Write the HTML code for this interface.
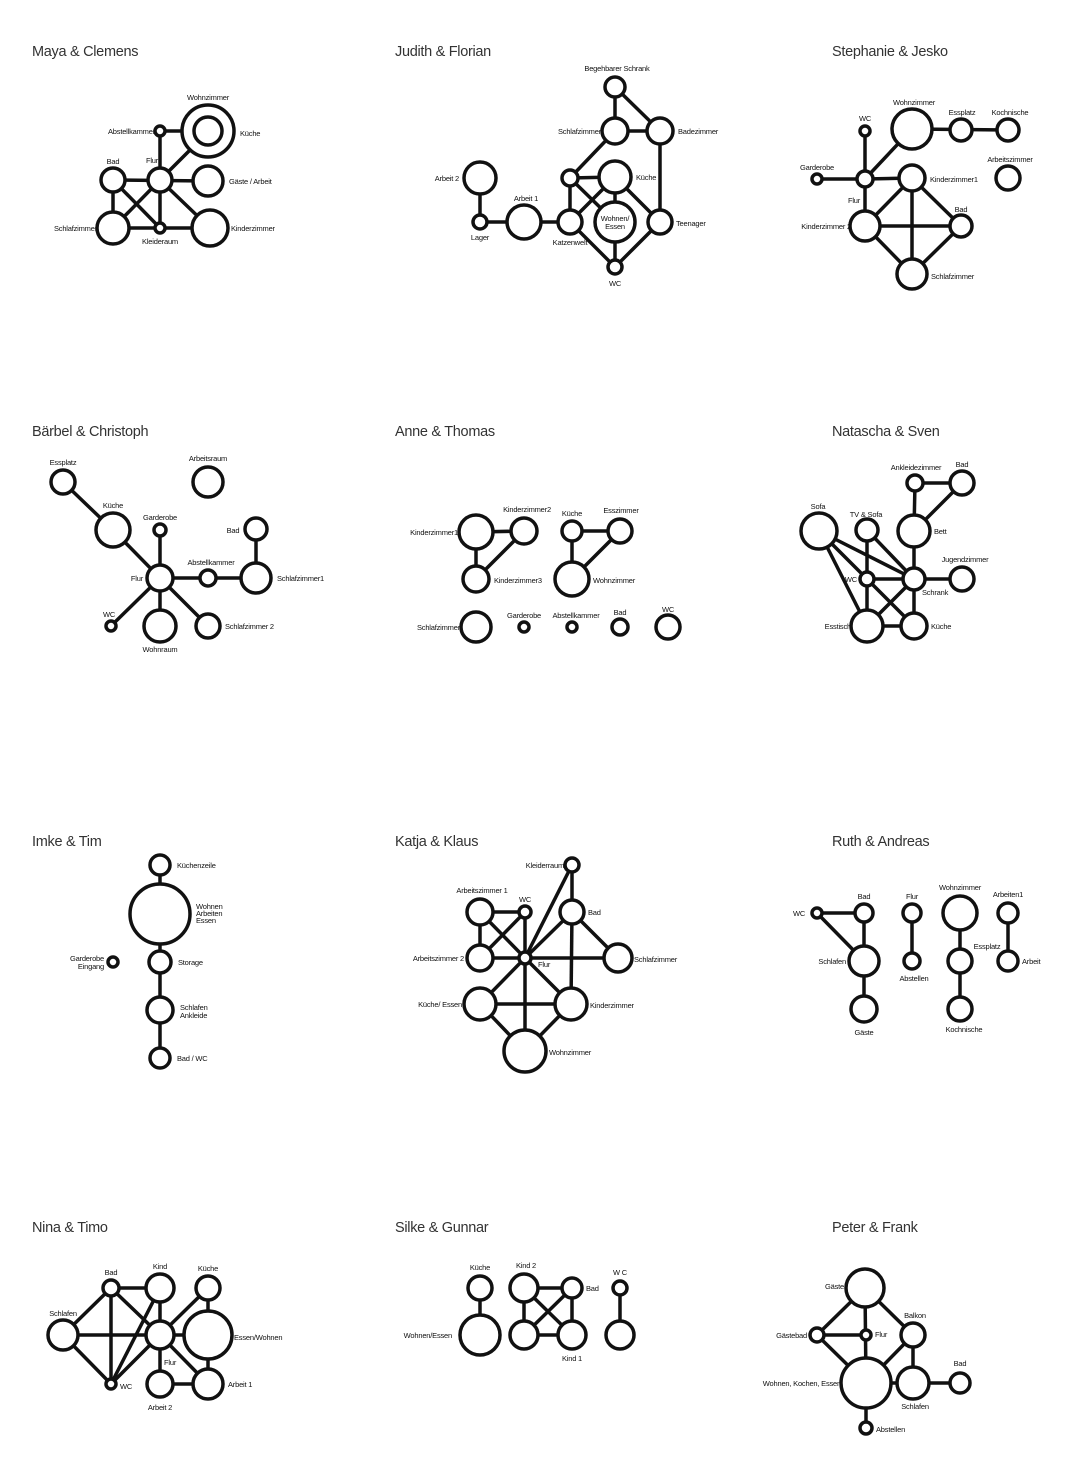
<!DOCTYPE html>
<html><head><meta charset="utf-8"><style>
html,body{margin:0;padding:0;background:#fff}
svg{display:block}
.t{font-family:"Liberation Sans",sans-serif;font-size:14.5px;fill:#333;letter-spacing:-0.3px}
.l{font-family:"Liberation Sans",sans-serif;font-size:7.5px;fill:#111;letter-spacing:-0.2px}
line{stroke:#111;stroke-width:3.5}
circle{fill:#fff;stroke:#111;stroke-width:3.5}
</style></head><body>
<svg width="1080" height="1471" viewBox="0 0 1080 1471" xmlns="http://www.w3.org/2000/svg">
<!-- titles -->
<text class="t" x="32" y="56">Maya &amp;  Clemens</text>
<text class="t" x="395" y="56">Judith &amp; Florian</text>
<text class="t" x="832" y="56">Stephanie &amp; Jesko</text>
<text class="t" x="32" y="436">Bärbel &amp; Christoph</text>
<text class="t" x="395" y="436">Anne &amp; Thomas</text>
<text class="t" x="832" y="436">Natascha &amp; Sven</text>
<text class="t" x="32" y="846">Imke &amp; Tim</text>
<text class="t" x="395" y="846">Katja &amp; Klaus</text>
<text class="t" x="832" y="846">Ruth &amp; Andreas</text>
<text class="t" x="32" y="1232">Nina &amp; Timo</text>
<text class="t" x="395" y="1232">Silke &amp; Gunnar</text>
<text class="t" x="832" y="1232">Peter &amp; Frank</text>

<!-- Maya -->
<g>
<line x1="160" y1="131" x2="208" y2="131"/><line x1="160" y1="131" x2="160" y2="180"/>
<line x1="160" y1="180" x2="198" y2="142"/><line x1="113" y1="180" x2="208" y2="181"/>
<line x1="113" y1="180" x2="113" y2="228"/><line x1="113" y1="180" x2="160" y2="228"/>
<line x1="160" y1="180" x2="113" y2="228"/><line x1="160" y1="180" x2="160" y2="228"/>
<line x1="160" y1="180" x2="210" y2="228"/><line x1="113" y1="228" x2="210" y2="228"/>
<circle cx="208" cy="131" r="26"/><circle cx="208" cy="131" r="14"/>
<circle cx="160" cy="131" r="5"/><circle cx="160" cy="180" r="12"/><circle cx="113" cy="180" r="12"/>
<circle cx="208" cy="181" r="15"/><circle cx="113" cy="228" r="16"/><circle cx="160" cy="228" r="5"/>
<circle cx="210" cy="228" r="18"/>
<text class="l" x="208" y="100" text-anchor="middle">Wohnzimmer</text>
<text class="l" x="155" y="134" text-anchor="end">Abstellkammer</text>
<text class="l" x="240" y="136">Küche</text>
<text class="l" x="152" y="163" text-anchor="middle">Flur</text>
<text class="l" x="113" y="164" text-anchor="middle">Bad</text>
<text class="l" x="229" y="184">Gäste / Arbeit</text>
<text class="l" x="97" y="231" text-anchor="end">Schlafzimmer</text>
<text class="l" x="160" y="244" text-anchor="middle">Kleideraum</text>
<text class="l" x="231" y="231">Kinderzimmer</text>
</g>

<!-- Judith -->
<g>
<line x1="615" y1="87" x2="615" y2="131"/><line x1="615" y1="87" x2="660" y2="131"/>
<line x1="615" y1="131" x2="660" y2="131"/><line x1="615" y1="131" x2="570" y2="178"/>
<line x1="660" y1="131" x2="660" y2="222"/><line x1="570" y1="178" x2="615" y2="177"/>
<line x1="570" y1="178" x2="570" y2="222"/><line x1="570" y1="178" x2="615" y2="222"/>
<line x1="480" y1="178" x2="480" y2="222"/><line x1="480" y1="222" x2="570" y2="222"/>
<line x1="570" y1="222" x2="615" y2="177"/><line x1="615" y1="177" x2="660" y2="222"/>
<line x1="615" y1="177" x2="615" y2="222"/><line x1="570" y1="222" x2="615" y2="267"/>
<line x1="615" y1="222" x2="615" y2="267"/><line x1="660" y1="222" x2="615" y2="267"/>
<circle cx="615" cy="87" r="10"/><circle cx="615" cy="131" r="13"/><circle cx="660" cy="131" r="13"/>
<circle cx="480" cy="178" r="16"/><circle cx="570" cy="178" r="8"/><circle cx="615" cy="177" r="16"/>
<circle cx="524" cy="222" r="17"/><circle cx="480" cy="222" r="7"/><circle cx="570" cy="222" r="12"/>
<circle cx="615" cy="222" r="20"/><circle cx="615" cy="267" r="7"/><circle cx="660" cy="222" r="12"/>
<text class="l" x="617" y="71" text-anchor="middle">Begehbarer Schrank</text>
<text class="l" x="601" y="134" text-anchor="end">Schlafzimmer</text>
<text class="l" x="678" y="134">Badezimmer</text>
<text class="l" x="459" y="181" text-anchor="end">Arbeit 2</text>
<text class="l" x="636" y="180">Küche</text>
<text class="l" x="526" y="201" text-anchor="middle">Arbeit 1</text>
<text class="l" x="480" y="240" text-anchor="middle">Lager</text>
<text class="l" x="570" y="245" text-anchor="middle">Katzenwelt</text>
<text class="l" x="615" y="221" text-anchor="middle">Wohnen/</text>
<text class="l" x="615" y="229" text-anchor="middle">Essen</text>
<text class="l" x="615" y="286" text-anchor="middle">WC</text>
<text class="l" x="676" y="226">Teenager</text>
</g>

<!-- Stephanie -->
<g>
<line x1="912" y1="129" x2="1008" y2="130"/>
<line x1="865" y1="131" x2="865" y2="179"/><line x1="817" y1="179" x2="865" y2="179"/>
<line x1="865" y1="179" x2="912" y2="129"/><line x1="865" y1="179" x2="912" y2="178"/>
<line x1="865" y1="179" x2="865" y2="226"/><line x1="912" y1="178" x2="865" y2="226"/>
<line x1="912" y1="178" x2="961" y2="226"/><line x1="912" y1="178" x2="912" y2="274"/>
<line x1="865" y1="226" x2="961" y2="226"/><line x1="865" y1="226" x2="912" y2="274"/>
<line x1="961" y1="226" x2="912" y2="274"/>
<circle cx="912" cy="129" r="20"/><circle cx="961" cy="130" r="11"/><circle cx="1008" cy="130" r="11"/>
<circle cx="1008" cy="178" r="12"/><circle cx="865" cy="131" r="5"/><circle cx="817" cy="179" r="5"/>
<circle cx="865" cy="179" r="8"/><circle cx="912" cy="178" r="13"/><circle cx="961" cy="226" r="11"/>
<circle cx="865" cy="226" r="15"/><circle cx="912" cy="274" r="15"/>
<text class="l" x="914" y="105" text-anchor="middle">Wohnzimmer</text>
<text class="l" x="962" y="115" text-anchor="middle">Essplatz</text>
<text class="l" x="1010" y="115" text-anchor="middle">Kochnische</text>
<text class="l" x="1010" y="162" text-anchor="middle">Arbeitszimmer</text>
<text class="l" x="865" y="121" text-anchor="middle">WC</text>
<text class="l" x="817" y="170" text-anchor="middle">Garderobe</text>
<text class="l" x="854" y="203" text-anchor="middle">Flur</text>
<text class="l" x="930" y="182">Kinderzimmer1</text>
<text class="l" x="961" y="212" text-anchor="middle">Bad</text>
<text class="l" x="851" y="229" text-anchor="end">Kinderzimmer 2</text>
<text class="l" x="931" y="279">Schlafzimmer</text>
</g>

<!-- Bärbel -->
<g>
<line x1="63" y1="482" x2="113" y2="530"/><line x1="113" y1="530" x2="160" y2="578"/>
<line x1="160" y1="530" x2="160" y2="578"/><line x1="160" y1="578" x2="256" y2="578"/>
<line x1="256" y1="529" x2="256" y2="578"/><line x1="160" y1="578" x2="111" y2="626"/>
<line x1="160" y1="578" x2="160" y2="626"/><line x1="160" y1="578" x2="208" y2="626"/>
<circle cx="63" cy="482" r="12"/><circle cx="208" cy="482" r="15"/><circle cx="113" cy="530" r="17"/>
<circle cx="160" cy="530" r="6"/><circle cx="256" cy="529" r="11"/><circle cx="208" cy="578" r="8"/>
<circle cx="256" cy="578" r="15"/><circle cx="160" cy="578" r="13"/><circle cx="111" cy="626" r="5"/>
<circle cx="160" cy="626" r="16"/><circle cx="208" cy="626" r="12"/>
<text class="l" x="63" y="465" text-anchor="middle">Essplatz</text>
<text class="l" x="208" y="461" text-anchor="middle">Arbeitsraum</text>
<text class="l" x="113" y="508" text-anchor="middle">Küche</text>
<text class="l" x="160" y="520" text-anchor="middle">Garderobe</text>
<text class="l" x="233" y="533" text-anchor="middle">Bad</text>
<text class="l" x="211" y="565" text-anchor="middle">Abstellkammer</text>
<text class="l" x="277" y="581">Schlafzimmer1</text>
<text class="l" x="143" y="581" text-anchor="end">Flur</text>
<text class="l" x="109" y="617" text-anchor="middle">WC</text>
<text class="l" x="160" y="652" text-anchor="middle">Wohnraum</text>
<text class="l" x="225" y="629">Schlafzimmer 2</text>
</g>

<!-- Anne -->
<g>
<line x1="476" y1="532" x2="524" y2="531"/><line x1="476" y1="532" x2="476" y2="579"/>
<line x1="524" y1="531" x2="476" y2="579"/><line x1="572" y1="531" x2="620" y2="531"/>
<line x1="572" y1="531" x2="572" y2="579"/><line x1="620" y1="531" x2="572" y2="579"/>
<circle cx="476" cy="532" r="17"/><circle cx="524" cy="531" r="13"/><circle cx="476" cy="579" r="13"/>
<circle cx="572" cy="531" r="10"/><circle cx="620" cy="531" r="12"/><circle cx="572" cy="579" r="17"/>
<circle cx="476" cy="627" r="15"/><circle cx="524" cy="627" r="5"/><circle cx="572" cy="627" r="5"/>
<circle cx="620" cy="627" r="8"/><circle cx="668" cy="627" r="12"/>
<text class="l" x="458" y="535" text-anchor="end">Kinderzimmer1</text>
<text class="l" x="527" y="512" text-anchor="middle">Kinderzimmer2</text>
<text class="l" x="494" y="583">Kinderzimmer3</text>
<text class="l" x="572" y="516" text-anchor="middle">Küche</text>
<text class="l" x="621" y="513" text-anchor="middle">Esszimmer</text>
<text class="l" x="593" y="583">Wohnzimmer</text>
<text class="l" x="460" y="630" text-anchor="end">Schlafzimmer</text>
<text class="l" x="524" y="618" text-anchor="middle">Garderobe</text>
<text class="l" x="576" y="618" text-anchor="middle">Abstellkammer</text>
<text class="l" x="620" y="615" text-anchor="middle">Bad</text>
<text class="l" x="668" y="612" text-anchor="middle">WC</text>
</g>

<!-- Natascha -->
<g>
<line x1="915" y1="483" x2="962" y2="483"/><line x1="915" y1="483" x2="914" y2="531"/>
<line x1="962" y1="483" x2="914" y2="531"/><line x1="914" y1="531" x2="914" y2="579"/>
<line x1="914" y1="579" x2="962" y2="579"/><line x1="914" y1="579" x2="914" y2="626"/>
<line x1="914" y1="579" x2="867" y2="626"/><line x1="914" y1="579" x2="867" y2="579"/>
<line x1="914" y1="579" x2="867" y2="530"/><line x1="914" y1="579" x2="819" y2="531"/>
<line x1="819" y1="531" x2="867" y2="579"/><line x1="819" y1="531" x2="867" y2="626"/>
<line x1="867" y1="530" x2="867" y2="626"/><line x1="867" y1="579" x2="914" y2="626"/>
<line x1="867" y1="626" x2="914" y2="626"/>
<circle cx="915" cy="483" r="8"/><circle cx="962" cy="483" r="12"/><circle cx="819" cy="531" r="18"/>
<circle cx="867" cy="530" r="11"/><circle cx="914" cy="531" r="16"/><circle cx="962" cy="579" r="12"/>
<circle cx="867" cy="579" r="7"/><circle cx="914" cy="579" r="11"/><circle cx="867" cy="626" r="16"/>
<circle cx="914" cy="626" r="13"/>
<text class="l" x="916" y="470" text-anchor="middle">Ankleidezimmer</text>
<text class="l" x="962" y="467" text-anchor="middle">Bad</text>
<text class="l" x="818" y="509" text-anchor="middle">Sofa</text>
<text class="l" x="866" y="517" text-anchor="middle">TV &amp; Sofa</text>
<text class="l" x="934" y="534">Bett</text>
<text class="l" x="965" y="562" text-anchor="middle">Jugendzimmer</text>
<text class="l" x="857" y="582" text-anchor="end">WC</text>
<text class="l" x="922" y="595">Schrank</text>
<text class="l" x="851" y="629" text-anchor="end">Esstisch</text>
<text class="l" x="931" y="629">Küche</text>
</g>

<!-- Imke -->
<g>
<line x1="160" y1="865" x2="160" y2="1058"/>
<circle cx="160" cy="865" r="10"/><circle cx="160" cy="914" r="30"/><circle cx="113" cy="962" r="5"/>
<circle cx="160" cy="962" r="11"/><circle cx="160" cy="1010" r="13"/><circle cx="160" cy="1058" r="10"/>
<text class="l" x="177" y="868">Küchenzeile</text>
<text class="l" x="196" y="909">Wohnen</text>
<text class="l" x="196" y="916">Arbeiten</text>
<text class="l" x="196" y="923">Essen</text>
<text class="l" x="104" y="961" text-anchor="end">Garderobe</text>
<text class="l" x="104" y="969" text-anchor="end">Eingang</text>
<text class="l" x="178" y="965">Storage</text>
<text class="l" x="180" y="1010">Schlafen</text>
<text class="l" x="180" y="1018">Ankleide</text>
<text class="l" x="177" y="1061">Bad / WC</text>
</g>

<!-- Katja -->
<g>
<line x1="480" y1="912" x2="525" y2="912"/><line x1="480" y1="912" x2="480" y2="958"/>
<line x1="480" y1="912" x2="525" y2="958"/><line x1="480" y1="958" x2="525" y2="912"/>
<line x1="480" y1="958" x2="618" y2="958"/><line x1="525" y1="912" x2="525" y2="1051"/>
<line x1="525" y1="958" x2="572" y2="865"/><line x1="572" y1="865" x2="572" y2="912"/>
<line x1="525" y1="958" x2="572" y2="912"/><line x1="572" y1="912" x2="571" y2="1004"/>
<line x1="572" y1="912" x2="618" y2="958"/><line x1="525" y1="958" x2="480" y2="1004"/>
<line x1="525" y1="958" x2="571" y2="1004"/><line x1="480" y1="1004" x2="571" y2="1004"/>
<line x1="480" y1="1004" x2="525" y2="1051"/><line x1="571" y1="1004" x2="525" y2="1051"/>
<circle cx="572" cy="865" r="7"/><circle cx="480" cy="912" r="13"/><circle cx="525" cy="912" r="6"/>
<circle cx="572" cy="912" r="12"/><circle cx="480" cy="958" r="13"/><circle cx="525" cy="958" r="6"/>
<circle cx="618" cy="958" r="14"/><circle cx="480" cy="1004" r="16"/><circle cx="571" cy="1004" r="16"/>
<circle cx="525" cy="1051" r="21"/>
<text class="l" x="564" y="868" text-anchor="end">Kleiderraum</text>
<text class="l" x="482" y="893" text-anchor="middle">Arbeitszimmer 1</text>
<text class="l" x="525" y="902" text-anchor="middle">WC</text>
<text class="l" x="588" y="915">Bad</text>
<text class="l" x="464" y="961" text-anchor="end">Arbeitszimmer 2</text>
<text class="l" x="538" y="967">Flur</text>
<text class="l" x="634" y="962">Schlafzimmer</text>
<text class="l" x="462" y="1007" text-anchor="end">Küche/ Essen</text>
<text class="l" x="590" y="1008">Kinderzimmer</text>
<text class="l" x="549" y="1055">Wohnzimmer</text>
</g>

<!-- Ruth -->
<g>
<line x1="817" y1="913" x2="864" y2="913"/><line x1="817" y1="913" x2="864" y2="961"/>
<line x1="864" y1="913" x2="864" y2="1009"/><line x1="912" y1="913" x2="912" y2="961"/>
<line x1="960" y1="913" x2="960" y2="1009"/><line x1="1008" y1="913" x2="1008" y2="961"/>
<circle cx="817" cy="913" r="5"/><circle cx="864" cy="913" r="9"/><circle cx="912" cy="913" r="9"/>
<circle cx="960" cy="913" r="17"/><circle cx="1008" cy="913" r="10"/><circle cx="864" cy="961" r="15"/>
<circle cx="912" cy="961" r="8"/><circle cx="960" cy="961" r="12"/><circle cx="1008" cy="961" r="10"/>
<circle cx="864" cy="1009" r="13"/><circle cx="960" cy="1009" r="12"/>
<text class="l" x="799" y="916" text-anchor="middle">WC</text>
<text class="l" x="864" y="899" text-anchor="middle">Bad</text>
<text class="l" x="912" y="899" text-anchor="middle">Flur</text>
<text class="l" x="960" y="890" text-anchor="middle">Wohnzimmer</text>
<text class="l" x="1008" y="897" text-anchor="middle">Arbeiten1</text>
<text class="l" x="846" y="964" text-anchor="end">Schlafen</text>
<text class="l" x="914" y="981" text-anchor="middle">Abstellen</text>
<text class="l" x="987" y="949" text-anchor="middle">Essplatz</text>
<text class="l" x="1022" y="964">Arbeit</text>
<text class="l" x="864" y="1035" text-anchor="middle">Gäste</text>
<text class="l" x="964" y="1032" text-anchor="middle">Kochnische</text>
</g>

<!-- Nina -->
<g>
<line x1="111" y1="1288" x2="160" y2="1288"/><line x1="111" y1="1288" x2="63" y2="1335"/>
<line x1="111" y1="1288" x2="111" y2="1384"/><line x1="111" y1="1288" x2="160" y2="1335"/>
<line x1="160" y1="1288" x2="160" y2="1335"/><line x1="160" y1="1288" x2="111" y2="1384"/>
<line x1="208" y1="1288" x2="160" y2="1335"/><line x1="208" y1="1288" x2="208" y2="1335"/>
<line x1="63" y1="1335" x2="208" y2="1335"/><line x1="63" y1="1335" x2="111" y2="1384"/>
<line x1="111" y1="1384" x2="160" y2="1335"/><line x1="160" y1="1335" x2="160" y2="1384"/>
<line x1="160" y1="1335" x2="208" y2="1384"/><line x1="208" y1="1335" x2="208" y2="1384"/>
<line x1="160" y1="1384" x2="208" y2="1384"/>
<circle cx="111" cy="1288" r="8"/><circle cx="160" cy="1288" r="14"/><circle cx="208" cy="1288" r="12"/>
<circle cx="63" cy="1335" r="15"/><circle cx="160" cy="1335" r="14"/><circle cx="208" cy="1335" r="24"/>
<circle cx="111" cy="1384" r="5"/><circle cx="160" cy="1384" r="13"/><circle cx="208" cy="1384" r="15"/>
<text class="l" x="111" y="1275" text-anchor="middle">Bad</text>
<text class="l" x="160" y="1269" text-anchor="middle">Kind</text>
<text class="l" x="208" y="1271" text-anchor="middle">Küche</text>
<text class="l" x="63" y="1316" text-anchor="middle">Schlafen</text>
<text class="l" x="164" y="1365">Flur</text>
<text class="l" x="234" y="1340">Essen/Wohnen</text>
<text class="l" x="120" y="1389">WC</text>
<text class="l" x="160" y="1410" text-anchor="middle">Arbeit 2</text>
<text class="l" x="228" y="1387">Arbeit 1</text>
</g>

<!-- Silke -->
<g>
<line x1="480" y1="1288" x2="480" y2="1335"/>
<line x1="524" y1="1288" x2="572" y2="1288"/><line x1="524" y1="1288" x2="524" y2="1335"/>
<line x1="524" y1="1288" x2="572" y2="1335"/><line x1="572" y1="1288" x2="524" y2="1335"/>
<line x1="572" y1="1288" x2="572" y2="1335"/><line x1="524" y1="1335" x2="572" y2="1335"/>
<line x1="620" y1="1288" x2="620" y2="1335"/>
<circle cx="480" cy="1288" r="12"/><circle cx="480" cy="1335" r="20"/><circle cx="524" cy="1288" r="14"/>
<circle cx="572" cy="1288" r="10"/><circle cx="524" cy="1335" r="14"/><circle cx="572" cy="1335" r="14"/>
<circle cx="620" cy="1288" r="7"/><circle cx="620" cy="1335" r="14"/>
<text class="l" x="480" y="1270" text-anchor="middle">Küche</text>
<text class="l" x="452" y="1338" text-anchor="end">Wohnen/Essen</text>
<text class="l" x="526" y="1268" text-anchor="middle">Kind 2</text>
<text class="l" x="586" y="1291">Bad</text>
<text class="l" x="572" y="1361" text-anchor="middle">Kind 1</text>
<text class="l" x="620" y="1275" text-anchor="middle">W C</text>
</g>

<!-- Peter -->
<g>
<line x1="865" y1="1288" x2="817" y2="1335"/><line x1="865" y1="1288" x2="866" y2="1383"/>
<line x1="865" y1="1288" x2="913" y2="1335"/><line x1="817" y1="1335" x2="866" y2="1335"/>
<line x1="817" y1="1335" x2="866" y2="1383"/><line x1="913" y1="1335" x2="866" y2="1383"/>
<line x1="913" y1="1335" x2="913" y2="1383"/><line x1="866" y1="1383" x2="960" y2="1383"/>
<line x1="866" y1="1383" x2="866" y2="1428"/>
<circle cx="865" cy="1288" r="19"/><circle cx="817" cy="1335" r="7"/><circle cx="866" cy="1335" r="5"/>
<circle cx="913" cy="1335" r="12"/><circle cx="866" cy="1383" r="25"/><circle cx="913" cy="1383" r="16"/>
<circle cx="960" cy="1383" r="10"/><circle cx="866" cy="1428" r="6"/>
<text class="l" x="844" y="1289" text-anchor="end">Gäste</text>
<text class="l" x="807" y="1338" text-anchor="end">Gästebad</text>
<text class="l" x="875" y="1337">Flur</text>
<text class="l" x="915" y="1318" text-anchor="middle">Balkon</text>
<text class="l" x="841" y="1386" text-anchor="end">Wohnen, Kochen, Essen</text>
<text class="l" x="915" y="1409" text-anchor="middle">Schlafen</text>
<text class="l" x="960" y="1366" text-anchor="middle">Bad</text>
<text class="l" x="876" y="1432">Abstellen</text>
</g>
</svg>
</body></html>
